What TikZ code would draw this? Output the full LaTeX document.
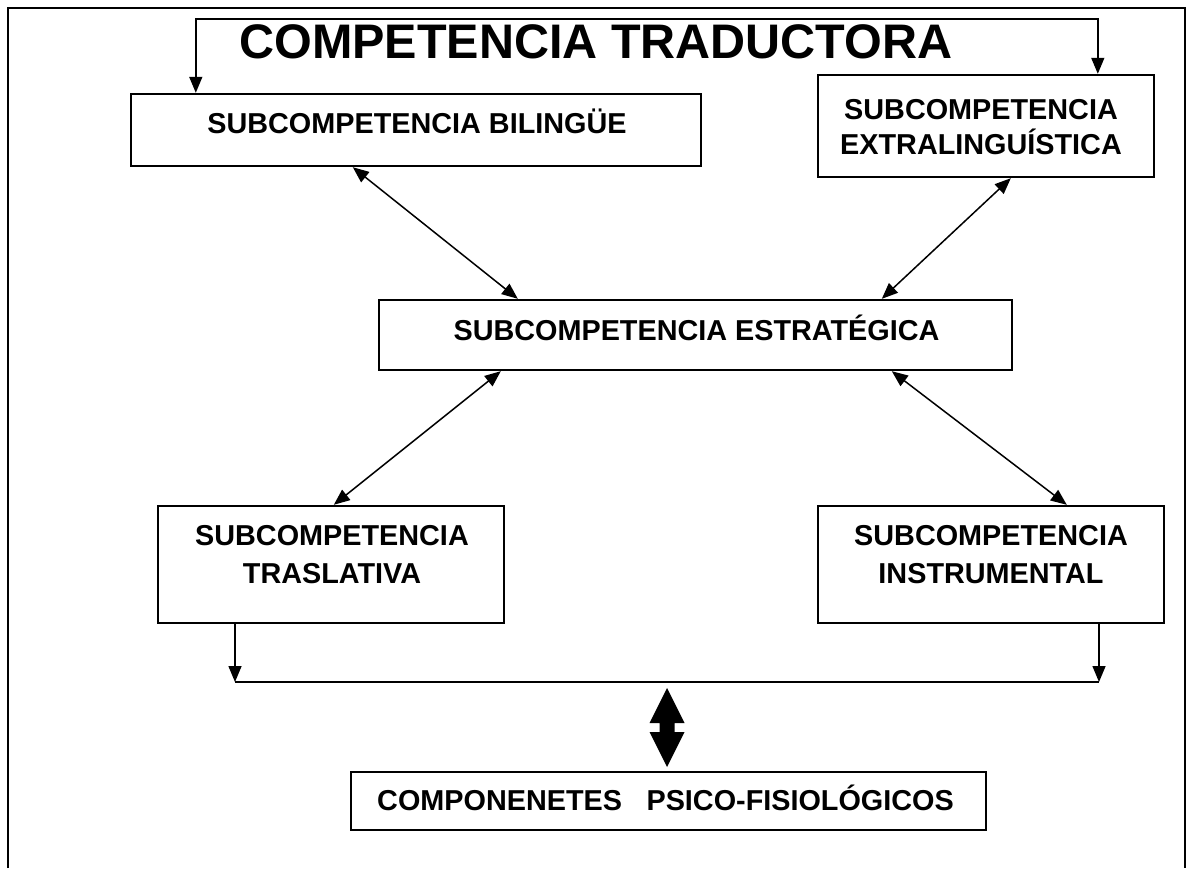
\documentclass[tikz,border=0pt]{standalone}
\usepackage{fontspec}
\setmainfont{Liberation Sans}
\usetikzlibrary{arrows.meta,calc}
\begin{document}
\begin{tikzpicture}[x=1pt,y=-1pt,
  box/.style={draw, line width=2.4pt, inner sep=0pt},
  lbl/.style={font=\fontsize{28.8}{34}\selectfont\bfseries, anchor=base, inner sep=0pt},
  conn/.style={line width=1.5pt},
  tip/.style={-{Triangle[length=16pt,width=13pt]}},
  dtip/.style={{Triangle[length=16pt,width=13pt]}-{Triangle[length=16pt,width=13pt]}}]
\useasboundingbox (0,0) rectangle (1190,868);
% outer frame (open at the bottom)
\draw[line width=2.4pt] (8,868) -- (8,8) -- (1185,8) -- (1185,868);
% title
\node[font=\fontsize{48.5}{56}\selectfont\bfseries, anchor=base, inner sep=0pt] (title) at (596,58) {COMPETENCIA TRADUCTORA};
% boxes
\node[box, minimum width=570pt, minimum height=72pt] (bil) at (416,130) {};
\node[box, minimum width=336pt, minimum height=102pt] (ext) at (986,126) {};
\node[box, minimum width=633pt, minimum height=70pt] (est) at (695.5,335) {};
\node[box, minimum width=346pt, minimum height=117pt] (tra) at (331,564.5) {};
\node[box, minimum width=346pt, minimum height=117pt] (ins) at (991,564.5) {};
\node[box, minimum width=635pt, minimum height=58pt] (psi) at (668.5,801) {};
% labels
\node[lbl] (tbil) at (417,133) {SUBCOMPETENCIA BILINGÜE};
\node[lbl] (text1) at (981,119) {SUBCOMPETENCIA};
\node[lbl] (text2) at (981,154) {EXTRALINGUÍSTICA};
\node[lbl] (test) at (696.5,340) {SUBCOMPETENCIA ESTRATÉGICA};
\node[lbl] (ttra1) at (332,545) {SUBCOMPETENCIA};
\node[lbl] (ttra2) at (332,583) {TRASLATIVA};
\node[lbl] (tins1) at (991,545) {SUBCOMPETENCIA};
\node[lbl] (tins2) at (991,583) {INSTRUMENTAL};
\node[lbl] (tpsi) at (665.5,810) {COMPONENETES\hspace*{0.85em}PSICO-FISIOLÓGICOS};
% top connector
\draw[conn,dtip] ([xshift=66pt]bil.north west) -- ++(0,-74) -| ([xshift=281pt]ext.north west);
% diagonal connectors
\draw[conn,dtip] ([xshift=223pt]bil.south west) -- ([xshift=140pt]est.north west);
\draw[conn,dtip] ([xshift=194pt]ext.south west) -- ([xshift=504pt]est.north west);
\draw[conn,dtip] ([xshift=123pt]est.south west) -- ([xshift=177pt]tra.north west);
\draw[conn,dtip] ([xshift=514pt]est.south west) -- ([xshift=250pt]ins.north west);
% bottom collector
\coordinate (hl) at (235,682);
\coordinate (hr) at (1099,682);
\draw[conn,tip] (tra.south west -| hl) -- (hl);
\draw[conn,tip] (ins.south west -| hr) -- (hr);
\draw[line width=1.8pt] (hl) -- (hr);
% big double arrow
\coordinate (dt) at (667,688);
\coordinate (db) at (667,767);
\fill ($(dt)$) -- ($(dt)+(17.5,35)$) -- ($(dt)+(7.5,35)$) -- ($(db)+(7.5,-35)$) -- ($(db)+(17.5,-35)$) -- (db)
  -- ($(db)+(-17.5,-35)$) -- ($(db)+(-7.5,-35)$) -- ($(dt)+(-7.5,35)$) -- ($(dt)+(-17.5,35)$) -- cycle;
\end{tikzpicture}
\end{document}
